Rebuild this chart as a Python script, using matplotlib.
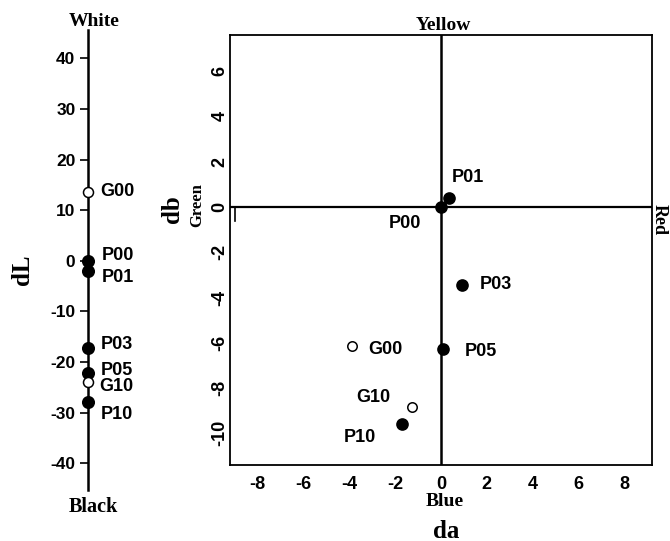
import matplotlib.pyplot as plt
import numpy as np

plt.rcParams['axes.unicode_minus'] = False

# sample names and colour differences
names = ['P00', 'P01', 'P03', 'P05', 'P10', 'G00', 'G10']
filled = [True, True, True, True, True, False, False]
dL = [0.0, -2.0, -17.3, -22.2, -28.0, 13.6, -24.0]
da = [0.0, 0.34, 0.92, 0.10, -1.70, -3.90, -1.25]
db = [0.0, 0.40, -3.44, -6.27, -9.59, -6.12, -8.84]

# label offsets in points (dx, dy) for the two panels
off_L = {'P00': (10, 4), 'P01': (10, -5), 'P03': (9, 3), 'P05': (9, 2),
         'P10': (9, -9), 'G00': (9, 0), 'G10': (8, -3)}
off_ab = {'P00': (-26, -12), 'P01': (14, 15), 'P03': (24, 0), 'P05': (27, -2),
          'P10': (-30, -10), 'G00': (24, -3), 'G10': (-28, 7)}

W, H = 670, 541
fig = plt.figure(figsize=(W / 100, H / 100), dpi=100)

sans = ['Liberation Sans', 'DejaVu Sans']
serif = ['Liberation Serif', 'DejaVu Serif']

def px(l, t, r, b):
    return [l / W, 1 - b / H, (r - l) / W, (b - t) / H]

# ---- left panel: dL ----
axL = fig.add_axes(px(60, 30, 116, 490))
axL.set_xlim(-1, 1)
axL.set_ylim(-45.3, 45.6)
for s in ['top', 'right', 'bottom']:
    axL.spines[s].set_visible(False)
axL.spines['left'].set_position(('data', 0))
axL.spines['left'].set_linewidth(1.8)
axL.set_xticks([])
axL.set_yticks(np.arange(-40, 41, 10))
axL.tick_params(axis='y', direction='out', length=6, width=1.2, pad=3)
for t in axL.get_yticklabels():
    t.set_family(sans)
    t.set_fontweight('bold')
    t.set_fontsize(12.5)
for n, f, v in zip(names, filled, dL):
    axL.plot(0, v, 'o', ms=8.3 if f else 7.2, mfc='black' if f else 'white',
             mec='black', mew=1.1, zorder=5, clip_on=False)
    axL.annotate(n, (0, v), xytext=off_L[n], textcoords='offset points',
                 ha='left', va='center', fontsize=13, fontweight='bold', family=sans)
fig.text(94 / W, 1 - 22 / H, 'White', ha='center', va='center',
         fontsize=14, fontweight='bold', family=serif)
fig.text(93 / W, 1 - 507 / H, 'Black', ha='center', va='center',
         fontsize=14.5, fontweight='bold', family=serif)
fig.text(23 / W, 1 - 270 / H, 'dL', ha='center', va='center', rotation=90,
         fontsize=18, fontweight='bold', family=serif)

# ---- right panel: da / db ----
ax = fig.add_axes(px(230, 35, 652, 465))
ax.set_xlim(-9.2, 9.2)
ax.set_ylim(-11.4, 7.6)
for s in ax.spines.values():
    s.set_linewidth(1.3)
ax.axhline(0, color='black', lw=1.6)
ax.axvline(0, color='black', lw=1.8)
ax.plot([-9.0, -9.0], [0, -0.6], color='black', lw=1.2)
ax.set_xticks(np.arange(-8, 9, 2))
ax.set_yticks(np.arange(-10, 7, 2))
ax.tick_params(length=0, pad=8)
ax.tick_params(axis='y', pad=1)
for t in ax.get_xticklabels():
    t.set_family(sans)
    t.set_fontweight('bold')
    t.set_fontsize(13)
for t in ax.get_yticklabels():
    t.set_family(sans)
    t.set_fontweight('bold')
    t.set_fontsize(13)
    t.set_rotation(90)
    t.set_va('center')
for n, f, x, y in zip(names, filled, da, db):
    ax.plot(x, y, 'o', ms=8 if f else 6.8, mfc='black' if f else 'white',
            mec='black', mew=1.1, zorder=5)
    ax.annotate(n, (x, y), xytext=off_ab[n], textcoords='offset points',
                ha='center', va='center', fontsize=13, fontweight='bold', family=sans)

fig.text(443 / W, 1 - 25 / H, 'Yellow', ha='center', va='center',
         fontsize=14, fontweight='bold', family=serif)
fig.text(445 / W, 1 - 501 / H, 'Blue', ha='center', va='center',
         fontsize=14, fontweight='bold', family=serif)
fig.text(446 / W, 1 - 531 / H, 'da', ha='center', va='center',
         fontsize=18, fontweight='bold', family=serif)
fig.text(172 / W, 1 - 209 / H, 'db', ha='center', va='center', rotation=90,
         fontsize=18, fontweight='bold', family=serif)
fig.text(197 / W, 1 - 205 / H, 'Green', ha='center', va='center', rotation=90,
         fontsize=12, fontweight='bold', family=serif)
fig.text(659 / W, 1 - 220 / H, 'Red', ha='center', va='center', rotation=-90,
         fontsize=13, fontweight='bold', family=serif)

fig.savefig('out.png', dpi=100)
